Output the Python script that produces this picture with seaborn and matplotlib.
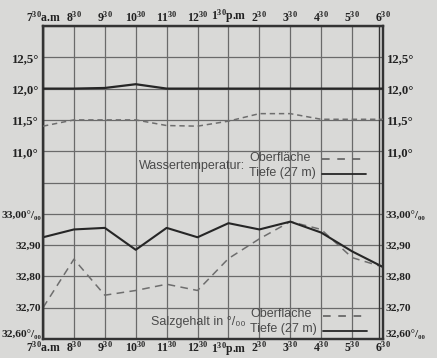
import numpy as np
import pandas as pd
import matplotlib
matplotlib.use("Agg")
import matplotlib.pyplot as plt
import seaborn as sns

# ---- data ----
times = [r"7$^{30}$a.m", r"8$^{30}$", r"9$^{30}$", r"10$^{30}$", r"11$^{30}$", r"12$^{30}$",
         r"1$^{30}$p.m", r"2$^{30}$", r"3$^{30}$", r"4$^{30}$", r"5$^{30}$", r"6$^{30}$"]
temp_surface = [11.40, 11.50, 11.50, 11.50, 11.41, 11.40, 11.48, 11.60, 11.60, 11.51, 11.51, 11.51]
temp_depth = [12.00, 12.00, 12.01, 12.07, 12.00, 12.00, 12.00, 12.00, 12.00, 12.00, 12.00, 12.00]
sal_surface = [32.700, 32.855, 32.740, 32.755, 32.775, 32.755, 32.857, 32.920, 32.975, 32.950, 32.860, 32.830]
sal_depth = [32.925, 32.950, 32.955, 32.885, 32.955, 32.925, 32.970, 32.950, 32.975, 32.940, 32.880, 32.830]

temp_ticks = [11.0, 11.5, 12.0, 12.5]
temp_labels = ["11,0°", "11,5°", "12,0°", "12,5°"]
sal_ticks = [32.6, 32.7, 32.8, 32.9, 33.0]
sal_labels = ["32,60°/₀₀", "32,70", "32,80", "32,90", "33,00°/₀₀"]

bg = "#d9d9d7"
sns.set_theme(style="white")
plt.rcParams["font.family"] = ["Liberation Serif", "DejaVu Serif"]
plt.rcParams["mathtext.fontset"] = "custom"
plt.rcParams["mathtext.rm"] = "Liberation Serif:bold"
plt.rcParams["mathtext.it"] = "Liberation Serif:bold"

fig = plt.figure(figsize=(4.37, 3.58), dpi=100, facecolor=bg)
W, H = 437, 358
L, R, T, B = 43, 383, 26, 339
ax = fig.add_axes([L / W, 1 - B / H, (R - L) / W, (B - T) / H])
ax.set_facecolor(bg)

x = np.arange(len(times))
df = pd.DataFrame({"x": x, "ts": temp_surface, "td": temp_depth,
                   "ss": sal_surface, "sd": sal_depth})

gridc = "#6a6a6a"
grid_y = np.round(np.arange(32.6, 33.61, 0.1), 2)
ax.set_xlim(0, len(times) - 1)
ax.set_ylim(32.6, 33.6)
ax.set_xticks(x)
ax.set_yticks(grid_y)
ax.grid(True, color=gridc, lw=0.9)
ax.set_axisbelow(True)

sns.lineplot(data=df, x="x", y="ss", ax=ax, color="#6e6e6e", lw=1.1,
             linestyle=(0, (5, 3.5)), zorder=3)
sns.lineplot(data=df, x="x", y="sd", ax=ax, color="#262626", lw=1.5, zorder=4)

ax2 = ax.twinx()
ax2.set_ylim(8.0, 13.0)
sns.lineplot(data=df, x="x", y="ts", ax=ax2, color="#6e6e6e", lw=1.1,
             linestyle=(0, (3.5, 2.5)), zorder=3)
sns.lineplot(data=df, x="x", y="td", ax=ax2, color="#262626", lw=1.6, zorder=4)
ax2.set_xlim(0, len(times) - 1)

for a in (ax, ax2):
    a.set_xlabel("")
    a.set_ylabel("")
    for s in a.spines.values():
        s.set_color("#333333")
        s.set_linewidth(1.6)
    a.tick_params(length=0, labelsize=9.2, colors="#222222", pad=3)

ax.set_xticklabels(times)
ax.tick_params(axis="x", labeltop=True, labelbottom=True, pad=1, labelsize=8.5)
lab_map = dict(zip(sal_ticks, sal_labels))
ax.set_yticks(grid_y)
ax.set_yticklabels([lab_map.get(round(v, 2), "") for v in grid_y])
ax.tick_params(axis="y", labelleft=True, labelright=True, pad=1.5, labelsize=8.2)
ax2.set_yticks(temp_ticks)
ax2.set_yticklabels(temp_labels)
ax2.tick_params(axis="y", labelleft=True, labelright=True, pad=3)
for lab in ax.get_yticklabels() + ax2.get_yticklabels() + ax.get_xticklabels():
    lab.set_fontweight("bold")
ax2.grid(False)

# lift the lowest salinity labels a little off the bottom frame
for tk in ax.yaxis.get_major_ticks()[:1]:
    tk.label1.set_va("bottom")
    tk.label2.set_va("bottom")

# double frame lines on left and right
ax.axvline(0.012, color="#333333", lw=1.0, zorder=5)
ax.axvline(len(times) - 1 - 0.012 * 11, color="#333333", lw=1.0, zorder=5)

leg = dict(family=["Liberation Sans", "DejaVu Sans"], color="#4a4a4a", fontsize=9)
def px(xp, yp):
    return ((xp - L) / (R - L), (B - yp) / (B - T))

ax.text(*px(139, 166), "Wassertemperatur:", transform=ax.transAxes, va="center", **leg)
ax.text(*px(249, 158), "Oberfläche", transform=ax.transAxes, va="center", **leg)
ax.text(*px(249, 173), "Tiefe (27 m)", transform=ax.transAxes, va="center", **leg)
ax.plot([px(322, 0)[0], px(366, 0)[0]], [px(0, 159)[1]] * 2, transform=ax.transAxes,
        color="#555555", lw=1.1, linestyle=(0, (5, 5)), zorder=6)
ax.plot([px(322, 0)[0], px(366, 0)[0]], [px(0, 174)[1]] * 2, transform=ax.transAxes,
        color="#262626", lw=1.3, zorder=6)

ax.text(*px(151, 322), "Salzgehalt in °/₀₀", transform=ax.transAxes, va="center", **leg)
ax.text(*px(250, 314), "Oberfläche", transform=ax.transAxes, va="center", **leg)
ax.text(*px(250, 329), "Tiefe (27 m)", transform=ax.transAxes, va="center", **leg)
ax.plot([px(323, 0)[0], px(367, 0)[0]], [px(0, 316)[1]] * 2, transform=ax.transAxes,
        color="#555555", lw=1.1, linestyle=(0, (5, 5)), zorder=6)
ax.plot([px(323, 0)[0], px(367, 0)[0]], [px(0, 331)[1]] * 2, transform=ax.transAxes,
        color="#262626", lw=1.3, zorder=6)

fig.savefig("out.png", dpi=100, facecolor=bg)
